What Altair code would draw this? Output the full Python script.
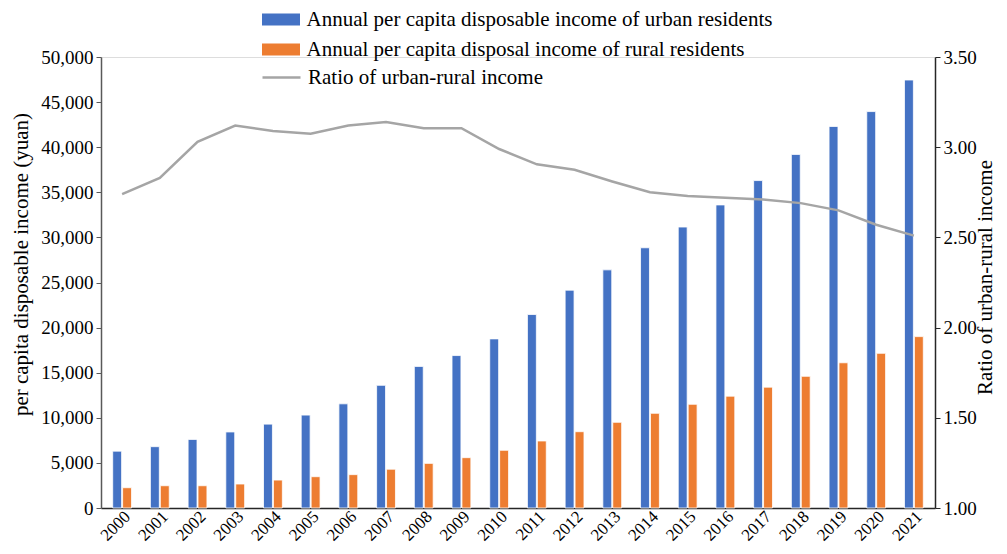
import altair as alt
import pandas as pd

years = [str(y) for y in range(2000, 2022)]
urban = [6300, 6800, 7600, 8430, 9300, 10300, 11550, 13600, 15700, 16900, 18750,
         21450, 24150, 26400, 28850, 31150, 33600, 36300, 39200, 42300, 43950, 47450]
rural = [2250, 2470, 2470, 2660, 3100, 3470, 3700, 4300, 4950, 5580, 6400,
         7430, 8460, 9500, 10500, 11500, 12400, 13400, 14600, 16100, 17150, 19000]
ratio = [2.74, 2.83, 3.03, 3.12, 3.09, 3.075, 3.12, 3.14, 3.105, 3.105, 2.99,
         2.905, 2.875, 2.81, 2.75, 2.73, 2.72, 2.71, 2.69, 2.65, 2.57, 2.51]

s_urban = "Annual per capita disposable income of urban residents"
s_rural = "Annual per capita disposal income of rural residents"
s_ratio = "Ratio of urban-rural income"

bars_df = pd.DataFrame(
    [{"year": y, "series": s_urban, "value": v} for y, v in zip(years, urban)]
    + [{"year": y, "series": s_rural, "value": v} for y, v in zip(years, rural)]
)
ratio_df = pd.DataFrame({"year": years, "ratio": ratio, "series": [s_ratio] * len(years)})

FONT = "Liberation Serif"

xscale = alt.Scale(domain=years, paddingInner=0.5, paddingOuter=0.31)
xaxis = alt.Axis(title=None, labelAngle=-45, labelAlign="right", labelBaseline="top",
                 labelFontSize=17, labelFont=FONT, labelColor="black", ticks=False,
                 labelPadding=0, domainColor="#262626", domainWidth=1.5, grid=False)

bars = alt.Chart(bars_df).mark_bar(stroke="white", strokeWidth=0.8).encode(
    x=alt.X("year:N", scale=xscale, axis=xaxis, sort=years),
    xOffset=alt.XOffset("series:N", sort=[s_urban, s_rural],
                        scale=alt.Scale(paddingInner=0.1)),
    y=alt.Y("value:Q", scale=alt.Scale(domain=[0, 50000], nice=False),
            axis=alt.Axis(orient="left", values=list(range(0, 50001, 5000)), format=",.0f",
                          title="per capita disposable income  (yuan)",
                          titleFont=FONT, titleFontSize=21, titleFontWeight="normal",
                          titleColor="black", titleAngle=270, titleX=-80, titleY=207,
                          titleAlign="center", titleBaseline="middle",
                          labelFont=FONT, labelFontSize=19, labelColor="black",
                          tickSize=5, tickColor="#595959", domainColor="#595959",
                          domainWidth=1.5, labelPadding=3, grid=False)),
    fill=alt.Fill("series:N", sort=[s_urban, s_rural],
                  scale=alt.Scale(domain=[s_urban, s_rural], range=["#4472C4", "#ED7D31"]),
                  legend=alt.Legend(title=None, orient="none", legendX=169.5, legendY=-48,
                                    symbolType="M-2,-0.62L2,-0.62L2,0.62L-2,0.62Z",
                                    symbolSize=361, symbolStrokeWidth=0,
                                    labelFont=FONT, labelFontSize=21, labelColor="black",
                                    labelOffset=15, rowPadding=8, labelLimit=700,
                                    padding=0)),
)

line = alt.Chart(ratio_df).mark_line(strokeWidth=2.5).encode(
    x=alt.X("year:N", scale=xscale, axis=xaxis, sort=years),
    y=alt.Y("ratio:Q", scale=alt.Scale(domain=[1, 3.5], nice=False),
            axis=alt.Axis(orient="right", values=[1, 1.5, 2, 2.5, 3, 3.5], format=".2f",
                          title=s_ratio, titleFont=FONT, titleFontSize=21,
                          titleFontWeight="normal", titleColor="black", titleAngle=270,
                          titleX=50, titleY=220, titleAlign="center", titleBaseline="middle",
                          labelFont=FONT, labelFontSize=19, labelColor="black",
                          tickSize=5, tickColor="#262626", domainColor="#262626",
                          domainWidth=1.5, labelPadding=3, grid=False)),
    stroke=alt.Stroke("series:N", scale=alt.Scale(domain=[s_ratio], range=["#A5A5A5"]),
                      legend=alt.Legend(title=None, orient="none", legendX=160, legendY=0,
                                        symbolType="stroke", symbolSize=1444,
                                        symbolStrokeWidth=2.5,
                                        labelFont=FONT, labelFontSize=21, labelColor="black",
                                        labelOffset=6, labelLimit=700, padding=0)),
)

chart = alt.layer(bars, line).resolve_scale(y="independent").properties(
    width=834, height=451,
    autosize=alt.AutoSizeParams(type="none"),
    padding={"left": 93, "top": 49, "right": 64, "bottom": 38},
).configure_view(stroke=None).configure(background="white")

chart.save("out.html", embed_options={"renderer": "svg", "actions": False})
